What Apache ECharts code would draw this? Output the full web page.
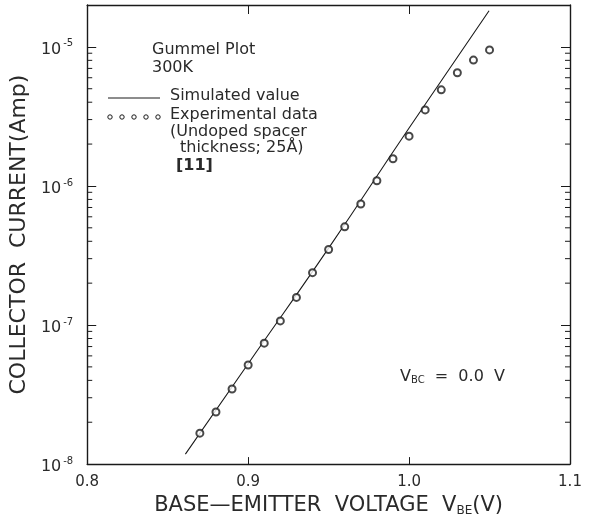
<!DOCTYPE html>
<html>
<head>
<meta charset="utf-8">
<script src="https://cdn.jsdelivr.net/npm/echarts@6/dist/echarts.min.js"></script>
<style>
  html, body { margin: 0; background: #fff; }
  #chart { width: 592px; height: 522px; }
</style>
</head>
<body>
<div id="chart"></div>
<script>
// measured points (experimental data)
const expVbe = [0.87, 0.88, 0.89, 0.90, 0.91, 0.92, 0.93, 0.94, 0.95, 0.96,
                0.97, 0.98, 0.99, 1.00, 1.01, 1.02, 1.03, 1.04, 1.05];
const expIc = [1.67e-8, 2.37e-8, 3.47e-8, 5.16e-8, 7.41e-8, 1.07e-7, 1.58e-7,
               2.38e-7, 3.49e-7, 5.08e-7, 7.41e-7, 1.09e-6, 1.57e-6, 2.28e-6,
               3.52e-6, 4.91e-6, 6.52e-6, 8.03e-6, 9.51e-6];

// simulated curve
const simVbe = [0.861, 0.90, 0.95, 1.00, 1.0497];
const simIc = [1.18e-8, 5.27e-8, 3.57e-7, 2.61e-6, 1.82e-5];

// axes
const xMin = 0.8, xMax = 1.1;
const yMin = 1e-8, yMax = 2e-5;
const minorMults = [2, 3, 4, 5, 6, 7, 8, 9];
const minorDecades = [1e-8, 1e-7, 1e-6, 1e-5];

const FONT = 'DejaVu Sans';
const INK = '#1a1a1a';
const TXT = '#2a2a2a';

// minor tick positions on the log axis
const minorTicks = [];
minorDecades.forEach(d => {
    minorMults.forEach(m => {
        if (m * d < yMax) minorTicks.push(m * d);
    });
});

const chart = echarts.init(document.getElementById('chart'));

function supLabel(v) {
    const e = Math.round(Math.log10(v));
    if (Math.abs(Math.log10(v) - e) > 1e-6) return '';
    return '{b|10}{s|' + e + '}';
}

const axisLine = { lineStyle: { color: INK, width: 1.4 } };
const txtFont = '16px "DejaVu Sans"';

const option = {
    animation: false,
    backgroundColor: '#fff',
    grid: { left: 86, right: 22, top: 5, bottom: 50 },
    xAxis: [{
        type: 'value',
        min: xMin,
        max: xMax,
        interval: 0.1,
        position: 'bottom',
        axisLine: axisLine,
        axisTick: { inside: true, length: 7, lineStyle: { color: INK } },
        splitLine: { show: false },
        axisLabel: {
            margin: 11,
            fontFamily: FONT,
            fontSize: 15,
            color: TXT,
            formatter: v => v.toFixed(1)
        },
        name: '{t|BASE\u2014EMITTER  VOLTAGE  V}{sub|BE}{t|(V)}',
        nameLocation: 'middle',
        nameGap: 26,
        nameTextStyle: {
            rich: {
                t: { fontFamily: FONT, fontSize: 21, color: TXT },
                sub: { fontFamily: FONT, fontSize: 12, color: TXT, padding: [11, 0, 0, 0] }
            }
        }
    }, {
        type: 'value',
        min: xMin,
        max: xMax,
        interval: 0.1,
        position: 'top',
        axisLine: axisLine,
        axisTick: { inside: true, length: 9, lineStyle: { color: INK } },
        axisLabel: { show: false },
        splitLine: { show: false }
    }],
    yAxis: [{
        type: 'log',
        logBase: 10,
        min: yMin,
        max: yMax,
        position: 'left',
        axisLine: axisLine,
        axisTick: { inside: true, length: 9, lineStyle: { color: INK } },
        splitLine: { show: false },
        minorTick: { show: false },
        axisLabel: {
            margin: 14,
            color: TXT,
            formatter: supLabel,
            rich: {
                b: { fontFamily: FONT, fontSize: 16, color: TXT, padding: [6, 2, 0, 0] },
                s: { fontFamily: FONT, fontSize: 10, color: TXT, padding: [0, 0, 6, 0] }
            }
        },
        name: 'COLLECTOR  CURRENT(Amp)',
        nameLocation: 'middle',
        nameGap: 55,
        nameTextStyle: { fontFamily: FONT, fontSize: 22, color: TXT }
    }, {
        type: 'log',
        logBase: 10,
        min: yMin,
        max: yMax,
        position: 'right',
        axisLine: axisLine,
        axisTick: { inside: true, length: 9, lineStyle: { color: INK } },
        axisLabel: { show: false },
        splitLine: { show: false }
    }],
    series: [{
        name: 'Simulated value',
        type: 'line',
        data: simVbe.map((v, i) => [v, simIc[i]]),
        showSymbol: false,
        smooth: true,
        lineStyle: { color: INK, width: 1.1 },
        z: 3
    }, {
        name: 'Experimental data',
        type: 'scatter',
        data: expVbe.map((v, i) => [v, expIc[i]]),
        symbol: 'emptyCircle',
        symbolSize: 7,
        itemStyle: { color: INK, borderColor: INK, borderWidth: 1.2 },
        z: 4
    }, {
        // minor decade ticks on left and right frame
        name: 'minor',
        type: 'custom',
        silent: true,
        clip: false,
        data: minorTicks.map(v => [xMin, v]),
        renderItem: function (params, api) {
            const v = api.value(1);
            const l = api.coord([xMin, v]);
            const r = api.coord([xMax, v]);
            return {
                type: 'group',
                children: [{
                    type: 'line',
                    shape: { x1: l[0], y1: l[1], x2: l[0] + 5, y2: l[1] },
                    style: { stroke: INK, lineWidth: 1 }
                }, {
                    type: 'line',
                    shape: { x1: r[0], y1: r[1], x2: r[0] - 5, y2: r[1] },
                    style: { stroke: INK, lineWidth: 1 }
                }]
            };
        }
    }],
    graphic: [
        { type: 'text', left: 152, top: 42, style: { text: 'Gummel Plot', font: txtFont, fill: TXT } },
        { type: 'text', left: 152, top: 60, style: { text: '300K', font: txtFont, fill: TXT } },
        { type: 'line', shape: { x1: 108, y1: 98, x2: 160, y2: 98 }, style: { stroke: INK, lineWidth: 1 } },
        { type: 'text', left: 170, top: 88, style: { text: 'Simulated value', font: txtFont, fill: TXT } },
        { type: 'circle', shape: { cx: 110, cy: 117, r: 2.2 }, style: { fill: '#fff', stroke: INK, lineWidth: 1 } },
        { type: 'circle', shape: { cx: 122, cy: 117, r: 2.2 }, style: { fill: '#fff', stroke: INK, lineWidth: 1 } },
        { type: 'circle', shape: { cx: 134, cy: 117, r: 2.2 }, style: { fill: '#fff', stroke: INK, lineWidth: 1 } },
        { type: 'circle', shape: { cx: 146, cy: 117, r: 2.2 }, style: { fill: '#fff', stroke: INK, lineWidth: 1 } },
        { type: 'circle', shape: { cx: 158, cy: 117, r: 2.2 }, style: { fill: '#fff', stroke: INK, lineWidth: 1 } },
        { type: 'text', left: 170, top: 107, style: { text: 'Experimental data', font: txtFont, fill: TXT } },
        { type: 'text', left: 170, top: 124, style: { text: '(Undoped spacer', font: txtFont, fill: TXT } },
        { type: 'text', left: 180, top: 140, style: { text: 'thickness; 25\u00C5)', font: txtFont, fill: TXT } },
        { type: 'text', left: 176, top: 158, style: { text: '[11]', font: 'bold 16px "DejaVu Sans"', fill: TXT } },
        {
            type: 'text', left: 400, top: 369,
            style: {
                text: '{a|V}{s|BC}{a|  =  0.0  V}',
                rich: {
                    a: { fontFamily: FONT, fontSize: 16, fill: TXT },
                    s: { fontFamily: FONT, fontSize: 10, fill: TXT, padding: [7, 0, 0, 0] }
                }
            }
        }
    ]
};

chart.setOption(option);
</script>
</body>
</html>
